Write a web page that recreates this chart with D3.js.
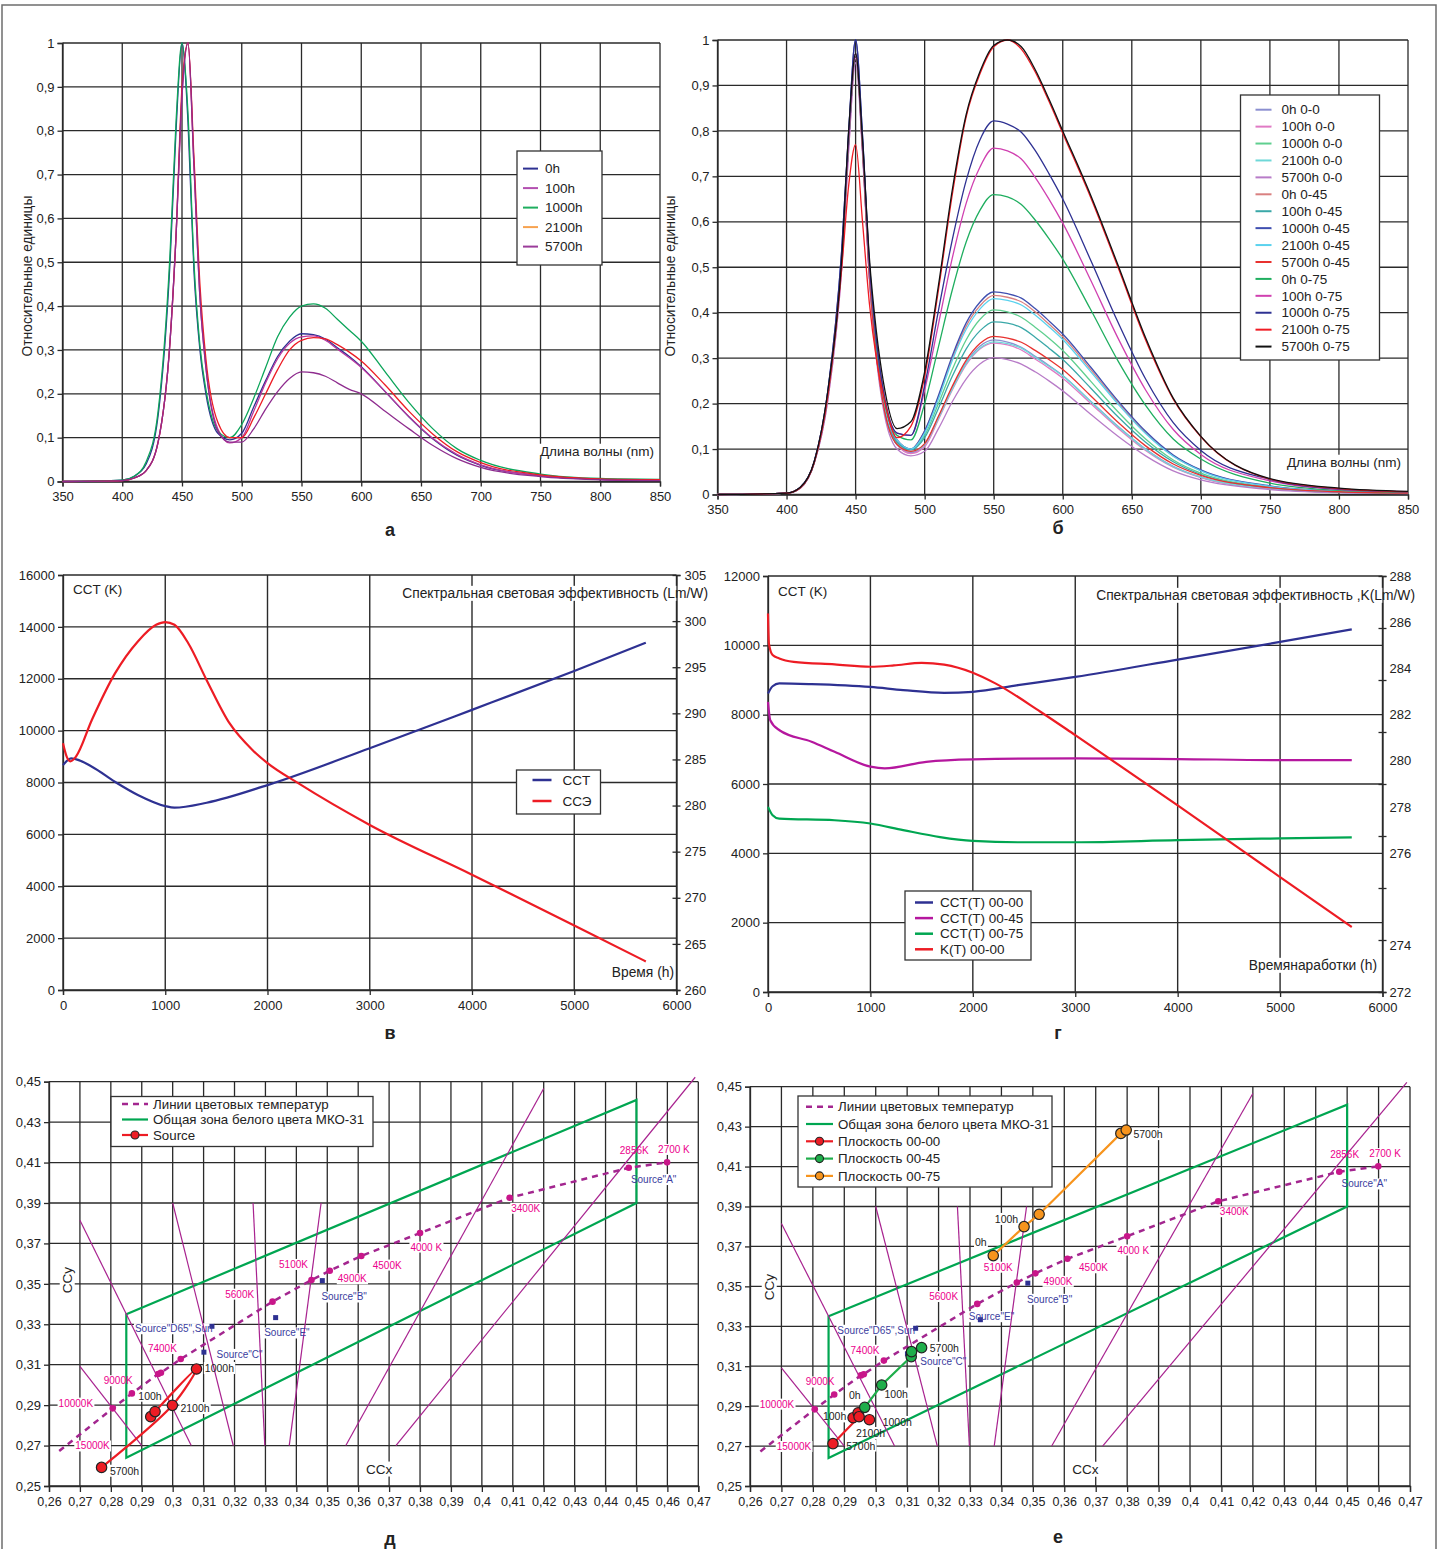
<!DOCTYPE html>
<html>
<head>
<meta charset="utf-8">
<script src="https://cdn.jsdelivr.net/npm/d3@7"></script>
<style>
  body { margin: 0; background: #fff; }
  text { font-family: "Liberation Sans", Arial, sans-serif; }
</style>
</head>
<body>
<svg id="fig" width="1439" height="1549"></svg>
<script>
/* ---------- data: spectra (а, б) ---------- */
const wl = [350, 400, 410, 420, 430, 440, 445, 450, 455, 460, 465, 470, 480, 490, 500, 510, 520, 530, 540, 550, 560, 570, 580, 590, 600, 620, 640, 660, 680, 700, 750, 800, 850];

const specANames = ['0h', '100h', '1000h', '2100h', '5700h'];
const specAColors = ['#2e3192', '#b9369e', '#0ca55a', '#ed1c24', '#8e2c8e'];
const specALegendColors = ['#2e3192', '#b34fb0', '#1fae5f', '#f7a24f', '#9b3c9a'];
const specA_0h = [0, 0.003, 0.012, 0.04, 0.15, 0.5, 0.8, 1.0, 0.82, 0.48, 0.3, 0.2, 0.11, 0.095, 0.11, 0.17, 0.23, 0.285, 0.32, 0.337, 0.335, 0.325, 0.305, 0.285, 0.262, 0.205, 0.147, 0.097, 0.06, 0.037, 0.013, 0.005, 0.003];
const specA_100h = [0, 0.002, 0.008, 0.025, 0.09, 0.32, 0.56, 0.88, 1.0, 0.72, 0.42, 0.26, 0.12, 0.088, 0.1, 0.16, 0.225, 0.28, 0.315, 0.33, 0.332, 0.322, 0.302, 0.282, 0.26, 0.205, 0.148, 0.098, 0.062, 0.038, 0.013, 0.005, 0.003];
const specA_1000h = [0, 0.003, 0.012, 0.045, 0.16, 0.52, 0.82, 1.0, 0.84, 0.5, 0.31, 0.21, 0.115, 0.1, 0.13, 0.19, 0.26, 0.33, 0.375, 0.4, 0.405, 0.395, 0.37, 0.345, 0.32, 0.25, 0.18, 0.12, 0.075, 0.048, 0.017, 0.007, 0.005];
const specA_2100h = [0, 0.002, 0.008, 0.025, 0.09, 0.32, 0.56, 0.9, 1.0, 0.74, 0.45, 0.28, 0.135, 0.1, 0.1, 0.145, 0.2, 0.255, 0.3, 0.322, 0.328, 0.325, 0.312, 0.295, 0.275, 0.22, 0.16, 0.108, 0.068, 0.043, 0.015, 0.006, 0.004];
const specA_5700h = [0, 0.002, 0.008, 0.025, 0.09, 0.32, 0.56, 0.88, 1.0, 0.72, 0.42, 0.26, 0.115, 0.09, 0.09, 0.12, 0.165, 0.205, 0.235, 0.25, 0.248, 0.24, 0.225, 0.21, 0.2, 0.16, 0.12, 0.082, 0.052, 0.032, 0.011, 0.004, 0.002];

const specBNames = ['0h 0-0', '100h 0-0', '1000h 0-0', '2100h 0-0', '5700h 0-0', '0h 0-45', '100h 0-45', '1000h 0-45', '2100h 0-45', '5700h 0-45', '0h 0-75', '100h 0-75', '1000h 0-75', '2100h 0-75', '5700h 0-75'];
const specBColors = ['#8b8fd0', '#e07ac4', '#5fcf8f', '#6fd8d8', '#b87cc8', '#d98080', '#3aa8a8', '#3f4fb0', '#5ad2ee', '#e8312f', '#1fae5f', '#d040b0', '#2e3192', '#f01c24', '#111111'];
const specB_0h_00 = [0, 0.003, 0.015, 0.07, 0.22, 0.52, 0.78, 0.97, 0.76, 0.48, 0.31, 0.2, 0.11, 0.092, 0.11, 0.17, 0.235, 0.29, 0.326, 0.34, 0.335, 0.324, 0.304, 0.284, 0.262, 0.206, 0.15, 0.1, 0.062, 0.038, 0.013, 0.005, 0.003];
const specB_100h_00 = [0, 0.003, 0.014, 0.068, 0.21, 0.5, 0.76, 0.96, 0.76, 0.48, 0.31, 0.2, 0.11, 0.09, 0.105, 0.165, 0.23, 0.285, 0.32, 0.333, 0.329, 0.318, 0.298, 0.278, 0.256, 0.201, 0.146, 0.097, 0.06, 0.037, 0.013, 0.005, 0.003];
const specB_1000h_00 = [0, 0.003, 0.015, 0.07, 0.22, 0.52, 0.78, 0.97, 0.77, 0.49, 0.32, 0.21, 0.115, 0.1, 0.13, 0.2, 0.275, 0.34, 0.385, 0.406, 0.402, 0.39, 0.368, 0.344, 0.317, 0.25, 0.182, 0.122, 0.076, 0.047, 0.016, 0.006, 0.004];
const specB_2100h_00 = [0, 0.003, 0.015, 0.07, 0.22, 0.52, 0.78, 0.97, 0.76, 0.48, 0.31, 0.2, 0.11, 0.095, 0.11, 0.168, 0.232, 0.288, 0.322, 0.336, 0.332, 0.322, 0.302, 0.282, 0.261, 0.205, 0.149, 0.099, 0.061, 0.038, 0.013, 0.005, 0.003];
const specB_5700h_00 = [0, 0.003, 0.014, 0.068, 0.21, 0.5, 0.76, 0.95, 0.75, 0.47, 0.3, 0.19, 0.1, 0.085, 0.095, 0.145, 0.204, 0.254, 0.287, 0.301, 0.297, 0.287, 0.27, 0.25, 0.228, 0.177, 0.128, 0.085, 0.052, 0.032, 0.011, 0.004, 0.002];
const specB_0h_45 = [0, 0.003, 0.015, 0.07, 0.22, 0.52, 0.78, 0.97, 0.77, 0.49, 0.32, 0.21, 0.12, 0.1, 0.14, 0.215, 0.3, 0.37, 0.415, 0.438, 0.434, 0.424, 0.402, 0.375, 0.347, 0.276, 0.202, 0.136, 0.085, 0.053, 0.018, 0.007, 0.004];
const specB_100h_45 = [0, 0.003, 0.015, 0.07, 0.22, 0.52, 0.78, 0.97, 0.77, 0.49, 0.32, 0.21, 0.115, 0.098, 0.125, 0.19, 0.26, 0.32, 0.36, 0.38, 0.377, 0.367, 0.346, 0.322, 0.297, 0.235, 0.171, 0.115, 0.072, 0.044, 0.015, 0.006, 0.003];
const specB_1000h_45 = [0, 0.003, 0.016, 0.072, 0.23, 0.54, 0.8, 1.0, 0.79, 0.5, 0.33, 0.215, 0.12, 0.1, 0.14, 0.218, 0.305, 0.377, 0.423, 0.446, 0.442, 0.432, 0.409, 0.382, 0.353, 0.281, 0.206, 0.139, 0.087, 0.054, 0.019, 0.007, 0.004];
const specB_2100h_45 = [0, 0.003, 0.015, 0.07, 0.22, 0.52, 0.78, 0.97, 0.77, 0.49, 0.32, 0.21, 0.12, 0.1, 0.135, 0.21, 0.295, 0.363, 0.408, 0.431, 0.427, 0.417, 0.395, 0.369, 0.341, 0.271, 0.199, 0.134, 0.084, 0.052, 0.018, 0.007, 0.004];
const specB_5700h_45 = [0, 0.003, 0.015, 0.07, 0.22, 0.52, 0.78, 0.97, 0.76, 0.48, 0.31, 0.2, 0.11, 0.095, 0.112, 0.172, 0.238, 0.295, 0.332, 0.348, 0.344, 0.335, 0.317, 0.297, 0.275, 0.218, 0.159, 0.107, 0.067, 0.042, 0.015, 0.006, 0.003];
const specB_0h_75 = [0, 0.003, 0.015, 0.07, 0.22, 0.52, 0.78, 0.97, 0.77, 0.5, 0.33, 0.22, 0.13, 0.12, 0.2, 0.325, 0.45, 0.555, 0.625, 0.66, 0.655, 0.638, 0.604, 0.563, 0.518, 0.408, 0.294, 0.196, 0.122, 0.078, 0.025, 0.009, 0.005];
const specB_100h_75 = [0, 0.003, 0.015, 0.07, 0.22, 0.52, 0.78, 0.97, 0.77, 0.5, 0.34, 0.23, 0.135, 0.13, 0.23, 0.375, 0.52, 0.64, 0.72, 0.762, 0.756, 0.738, 0.698, 0.65, 0.597, 0.473, 0.344, 0.23, 0.143, 0.088, 0.03, 0.011, 0.006];
const specB_1000h_75 = [0, 0.003, 0.016, 0.072, 0.23, 0.54, 0.8, 1.0, 0.79, 0.51, 0.34, 0.23, 0.135, 0.13, 0.24, 0.405, 0.56, 0.69, 0.78, 0.822, 0.815, 0.797, 0.757, 0.706, 0.65, 0.517, 0.379, 0.254, 0.158, 0.097, 0.033, 0.012, 0.006];
const specB_2100h_75 = [0, 0.003, 0.015, 0.07, 0.22, 0.5, 0.68, 0.77, 0.6, 0.42, 0.3, 0.22, 0.125, 0.15, 0.26, 0.45, 0.66, 0.83, 0.925, 0.985, 1.0, 0.98, 0.93, 0.865, 0.795, 0.655, 0.5, 0.34, 0.21, 0.127, 0.034, 0.013, 0.006];
const specB_5700h_75 = [0, 0.003, 0.016, 0.072, 0.23, 0.52, 0.8, 0.97, 0.78, 0.52, 0.36, 0.25, 0.145, 0.16, 0.27, 0.46, 0.67, 0.835, 0.93, 0.988, 1.0, 0.985, 0.935, 0.87, 0.8, 0.66, 0.505, 0.345, 0.212, 0.128, 0.035, 0.014, 0.007];

/* ---------- data: CCT and efficacy vs. time (в, г) ---------- */
const cctTimeV = [0, 80, 283, 507, 732, 1000, 1090, 1405, 2000, 3000, 4000, 5000, 5700];
const cctV = [8670, 8930, 8610, 8030, 7520, 7090, 7030, 7220, 7900, 9320, 10800, 12300, 13390];
const effTimeV = [0, 36, 72, 126, 283, 507, 732, 911, 1000, 1090, 1225, 1405, 1630, 1855, 2000, 2304, 3000, 4000, 5000, 5700];
const effV = [286.75, 285.3, 284.8, 285.3, 289.3, 294.3, 297.8, 299.6, 299.9, 299.6, 297.6, 293.6, 288.9, 286.0, 284.6, 282.4, 277.9, 272.5, 267.0, 263.1];

const cct00Time = [0, 45, 110, 425, 1000, 1320, 1720, 2000, 2440, 3000, 4000, 5000, 5700];
const cct00 = [8610, 8820, 8900, 8880, 8800, 8710, 8630, 8660, 8850, 9090, 9590, 10100, 10460];
const cct45Time = [0, 22, 112, 425, 650, 1000, 1140, 1545, 2000, 3000, 4000, 5000, 5700];
const cct45 = [8370, 7840, 7550, 7220, 6930, 6500, 6450, 6640, 6710, 6740, 6720, 6690, 6690];
const cct75Time = [0, 45, 110, 650, 1000, 1320, 1680, 2000, 2440, 3000, 4000, 5000, 5700];
const cct75 = [5340, 5100, 5000, 4955, 4860, 4670, 4470, 4360, 4320, 4320, 4380, 4430, 4460];
const kTime = [0, 9, 45, 110, 250, 650, 1000, 1230, 1500, 1720, 2000, 2220, 2660, 3000, 4000, 5000, 5700];
const kVal = [286.56, 285.4, 284.96, 284.83, 284.7, 284.6, 284.51, 284.56, 284.66, 284.59, 284.28, 283.87, 282.78, 281.88, 279.18, 276.42, 274.5];
// right-axis labels of panel г as printed (bottom to top, one slot left empty)
const kAxisLabels = ['272', '274', '', '276', '278', '280', '282', '284', '286', '288'];

/* ---------- data: chromaticity diagrams (д, е) ---------- */
const ctX = [0.2633, 0.2806, 0.2868, 0.2953, 0.2962, 0.3026, 0.3323, 0.3449, 0.3508, 0.361, 0.38, 0.409, 0.4475, 0.4599];
const ctY = [0.2673, 0.2884, 0.2958, 0.3054, 0.306, 0.3128, 0.3412, 0.3519, 0.3565, 0.3638, 0.3751, 0.3926, 0.4074, 0.4101];
const ctLabels = ['15000K', '10000K', '9000K', '7400K', '5600K', '5100K', '4900K', '4500K', '4000 K', '3400K', '2856K', '2700 K'];
const ctLabelX = [0.2685, 0.2631, 0.2777, 0.292, 0.317, 0.3344, 0.3534, 0.3647, 0.3769, 0.4095, 0.4446, 0.457];
const ctLabelY = [0.2698, 0.291, 0.3021, 0.318, 0.3449, 0.3596, 0.3525, 0.3593, 0.3682, 0.3874, 0.4162, 0.4165];

const zoneX = [0.285, 0.45, 0.45, 0.285];
const zoneY = [0.335, 0.441, 0.39, 0.264];

const isoX1 = [0.27, 0.27, 0.30, 0.326, 0.348, 0.356, 0.3722];
const isoY1 = [0.3815, 0.3092, 0.39, 0.39, 0.39, 0.27, 0.27];
const isoX2 = [0.306, 0.29, 0.3196, 0.3298, 0.3377, 0.42, 0.469];
const isoY2 = [0.27, 0.27, 0.27, 0.27, 0.27, 0.4466, 0.4522];

const srcPtX = [0.3127, 0.3101, 0.3333, 0.3484];
const srcPtY = [0.329, 0.3162, 0.3333, 0.3516];
const srcLabels = ['Source"D65",Sun', 'Source"C"', 'Source"E"', 'Source"B"', 'Source"A"'];
const srcLabelX = [0.2878, 0.3142, 0.3296, 0.3481, 0.4482];
const srcLabelYD = [0.3278, 0.3151, 0.3257, 0.3435, 0.4016];
const srcLabelYE = [0.328, 0.3123, 0.3348, 0.3435, 0.4013];

const srcDX = [0.2929, 0.2943, 0.3077, 0.2999, 0.277];
const srcDY = [0.2843, 0.2868, 0.3079, 0.2899, 0.2592];
const srcDLab = ['', '100h', '1000h', '2100h', '5700h'];
const srcDLabX = [0, 0.2889, 0.3104, 0.3025, 0.2797];
const srcDLabY = [0, 0.2945, 0.3082, 0.2884, 0.2574];

const p00X = [0.2928, 0.2944, 0.298, 0.2947, 0.2864];
const p00Y = [0.2842, 0.2867, 0.2832, 0.2847, 0.2712];
const p00Lab = ['', '100h', '1000h', '2100h', '5700h'];
const p00LabX = [0, 0.2832, 0.3022, 0.2937, 0.2906];
const p00LabY = [0, 0.2847, 0.2819, 0.2764, 0.2701];
const p45X = [0.2965, 0.3019, 0.3113, 0.3114, 0.3146];
const p45Y = [0.2894, 0.3006, 0.3148, 0.3173, 0.3193];
const p45Lab = ['0h', '100h', '', '', '5700h'];
const p45LabX = [0.2915, 0.3028, 0, 0, 0.3172];
const p45LabY = [0.2954, 0.2961, 0, 0, 0.3191];
const p75X = [0.3374, 0.3472, 0.352, 0.378, 0.3797];
const p75Y = [0.3654, 0.3799, 0.3861, 0.4266, 0.4283];
const p75Lab = ['0h', '100h', '', '', '5700h'];
const p75LabX = [0.3316, 0.3379, 0, 0, 0.382];
const p75LabY = [0.3719, 0.3836, 0, 0, 0.4261];

/* ---------- helpers ---------- */
const svg = d3.select('#fig');
const ruLocale = d3.formatLocale({ decimal: ',', thousands: '', grouping: [3], currency: ['', ''] });
const fmtDec = ruLocale.format('.2~f');
const gridColor = '#2a2a2a';

svg.append('rect')
    .attr('x', 2).attr('y', 5).attr('width', 1434).attr('height', 1560)
    .attr('fill', 'none').attr('stroke', '#6d6d6d').attr('stroke-width', 1.5);

function styleAxis(sel, size) {
    sel.select('.domain').attr('stroke', gridColor).attr('stroke-width', 1.3);
    sel.selectAll('.tick line').attr('stroke', gridColor).attr('stroke-width', 1.3);
    sel.selectAll('.tick text')
        .attr('fill', '#222')
        .style('font-family', '"Liberation Sans", Arial, sans-serif')
        .style('font-size', size + 'px');
}

// text with a white box behind it; the box goes into bgLayer so it only hides the grid
function boxedText(textLayer, bgLayer, x, y, str, o = {}) {
    const t = textLayer.append('text')
        .attr('x', x).attr('y', y).attr('dy', '0.35em')
        .attr('text-anchor', o.anchor || 'start')
        .attr('fill', o.color || '#222')
        .style('font-size', (o.size || 13) + 'px')
        .text(str);
    if (o.rotate) t.attr('transform', `rotate(-90,${x},${y})`);
    const b = t.node().getBBox();
    const r = bgLayer.append('rect')
        .attr('x', b.x - 1).attr('y', b.y).attr('width', b.width + 2).attr('height', b.height)
        .attr('fill', '#fff');
    if (o.rotate) r.attr('transform', `rotate(-90,${x},${y})`);
    return t;
}

function panelLetter(x, y, str) {
    svg.append('text').attr('x', x).attr('y', y).attr('dy', '0.35em')
        .attr('text-anchor', 'middle')
        .style('font-size', '18px').style('font-weight', 'bold')
        .attr('fill', '#222').text(str);
}

/* ---------- spectra panels ---------- */
function drawSpectra(p) {
    const g = svg.append('g');
    const x = d3.scaleLinear().domain([350, 850]).range([p.left, p.right]);
    const y = d3.scaleLinear().domain([0, 1]).range([p.bottom, p.top]);

    const grid = g.append('g').attr('stroke', gridColor).attr('stroke-width', 1.3);
    grid.selectAll('.v').data(x.ticks(10)).join('line')
        .attr('x1', d => x(d)).attr('x2', d => x(d)).attr('y1', p.top).attr('y2', p.bottom);
    grid.selectAll('.h').data(y.ticks(10)).join('line')
        .attr('y1', d => y(d)).attr('y2', d => y(d)).attr('x1', p.left).attr('x2', p.right);

    const bg = g.append('g');

    g.append('g').attr('transform', `translate(0,${p.bottom})`)
        .call(d3.axisBottom(x).ticks(10).tickSize(5).tickPadding(5).tickFormat(d3.format('d')))
        .call(s => styleAxis(s, 13));
    g.append('g').attr('transform', `translate(${p.left},0)`)
        .call(d3.axisLeft(y).ticks(10).tickSize(5).tickPadding(3).tickFormat(fmtDec))
        .call(s => styleAxis(s, 13));

    const line = d3.line().x((d, i) => x(wl[i])).y(d => y(d)).curve(d3.curveMonotoneX);
    g.append('g').selectAll('path').data(p.series).join('path')
        .attr('d', d => line(d.values))
        .attr('fill', 'none').attr('stroke', d => d.color).attr('stroke-width', 1.3);

    const tl = g.append('g');
    boxedText(tl, bg, p.xLabelX, p.xLabelY, 'Длина волны (nm)', { anchor: 'end', size: 13.5 });
    tl.append('text')
        .attr('transform', `translate(${p.yLabelX},${p.yLabelY}) rotate(-90)`)
        .attr('text-anchor', 'middle').attr('dy', '0.35em')
        .style('font-size', '13.8px').attr('fill', '#222')
        .text('Относительные единицы');

    const lg = g.append('g').attr('transform', `translate(${p.legend.x},${p.legend.y})`);
    lg.append('rect').attr('width', p.legend.w).attr('height', p.legend.h)
        .attr('fill', '#fff').attr('stroke', '#333').attr('stroke-width', 1.3);
    const items = lg.selectAll('g').data(p.series).join('g')
        .attr('transform', (d, i) => `translate(0,${p.legend.first + i * p.legend.step})`);
    items.append('line').attr('x1', p.legend.lx1).attr('x2', p.legend.lx2)
        .attr('stroke', d => d.legendColor || d.color).attr('stroke-width', 2);
    items.append('text').attr('x', p.legend.tx).attr('dy', '0.35em')
        .style('font-size', p.legend.size + 'px').attr('fill', '#222')
        .text(d => d.name);
}

const specAValues = [specA_0h, specA_100h, specA_1000h, specA_2100h, specA_5700h];
drawSpectra({
    left: 62.5, right: 660, top: 43, bottom: 481.5,
    series: specANames.map((n, i) => ({ name: n, color: specAColors[i], legendColor: specALegendColors[i], values: specAValues[i] })),
    xLabelX: 654, xLabelY: 451, yLabelX: 27, yLabelY: 276,
    legend: { x: 517, y: 151, w: 85, h: 114, first: 17.6, step: 19.5, lx1: 6, lx2: 21, tx: 28, size: 13.5 }
});

const specBValues = [specB_0h_00, specB_100h_00, specB_1000h_00, specB_2100h_00, specB_5700h_00,
    specB_0h_45, specB_100h_45, specB_1000h_45, specB_2100h_45, specB_5700h_45,
    specB_0h_75, specB_100h_75, specB_1000h_75, specB_2100h_75, specB_5700h_75];
drawSpectra({
    left: 717.5, right: 1408, top: 40, bottom: 494.5,
    series: specBNames.map((n, i) => ({ name: n, color: specBColors[i], values: specBValues[i] })),
    xLabelX: 1401, xLabelY: 462, yLabelX: 670, yLabelY: 276,
    legend: { x: 1240.5, y: 95, w: 139, h: 265, first: 14.7, step: 16.92, lx1: 15, lx2: 31, tx: 41, size: 13.5 }
});

/* ---------- time panels ---------- */
function drawTime(p) {
    const g = svg.append('g');
    const x = d3.scaleLinear().domain([0, 6000]).range([p.left, p.right]);
    const yL = d3.scaleLinear().domain([0, p.leftMax]).range([p.bottom, p.top]);
    const yR = d3.scaleLinear().domain(p.rightDomain).range([p.bottom, p.top]);
    const xt = d3.range(0, 6001, 1000);
    const yt = d3.range(0, p.leftMax + 1, 2000);

    const grid = g.append('g').attr('stroke', gridColor).attr('stroke-width', 1.4);
    grid.selectAll('.v').data(xt).join('line')
        .attr('x1', d => x(d)).attr('x2', d => x(d)).attr('y1', p.top).attr('y2', p.bottom);
    grid.selectAll('.h').data(yt).join('line')
        .attr('y1', d => yL(d)).attr('y2', d => yL(d)).attr('x1', p.left).attr('x2', p.right);

    const bg = g.append('g');

    g.append('g').attr('transform', `translate(0,${p.bottom})`)
        .call(d3.axisBottom(x).tickValues(xt).tickSize(5).tickPadding(6).tickFormat(d3.format('d')))
        .call(s => styleAxis(s, 13));
    g.append('g').attr('transform', `translate(${p.left},0)`)
        .call(d3.axisLeft(yL).tickValues(yt).tickSize(5).tickPadding(3).tickFormat(d3.format('d')))
        .call(s => styleAxis(s, 13));
    const ra = g.append('g').attr('transform', `translate(${p.right},0)`)
        .call(d3.axisRight(yR).tickValues(p.rightTicks).tickSize(4).tickPadding(4).tickFormat(d3.format('d')))
        .call(s => styleAxis(s, 13));
    ra.selectAll('.tick').append('line').attr('x2', -4).attr('stroke', gridColor).attr('stroke-width', 1.3);
    if (p.rightLabels) {
        // labels printed on their own evenly spaced slots, as in the original figure
        ra.selectAll('.tick text').remove();
        const slot = d3.scalePoint().domain(d3.range(p.rightLabels.length)).range([p.bottom, p.top]);
        ra.append('g').selectAll('text').data(p.rightLabels).join('text')
            .attr('x', 7).attr('y', (d, i) => slot(i)).attr('dy', '0.35em')
            .attr('fill', '#222').style('font-size', '13px').text(d => d);
    }

    const line = d3.line().curve(d3.curveMonotoneX);
    g.append('g').selectAll('path').data(p.series).join('path')
        .attr('d', d => line(d.t.map((t, i) => [x(t), (d.right ? yR : yL)(d.v[i])])))
        .attr('fill', 'none').attr('stroke', d => d.color).attr('stroke-width', 2.2);

    const tl = g.append('g');
    boxedText(tl, bg, p.cctX, p.cctY, 'CCT (K)', { size: 13.5 });
    boxedText(tl, bg, p.effX, p.effY, p.effText, { anchor: 'end', size: 13.8 });
    boxedText(tl, bg, p.timeX, p.timeY, p.timeText, { anchor: 'end', size: 13.8 });

    const L = p.legend;
    const lg = g.append('g').attr('transform', `translate(${L.x},${L.y})`);
    lg.append('rect').attr('width', L.w).attr('height', L.h)
        .attr('fill', '#fff').attr('stroke', '#333').attr('stroke-width', 1.3);
    const items = lg.selectAll('g').data(p.series).join('g')
        .attr('transform', (d, i) => `translate(0,${L.first + i * L.step})`);
    items.append('line').attr('x1', L.lx1).attr('x2', L.lx2)
        .attr('stroke', d => d.color).attr('stroke-width', 2.5);
    items.append('text').attr('x', L.tx).attr('dy', '0.35em')
        .style('font-size', '13.5px').attr('fill', '#222').text(d => d.name);
}

drawTime({
    left: 63, right: 676.5, top: 575, bottom: 990,
    leftMax: 16000, rightDomain: [260, 305], rightTicks: d3.range(260, 306, 5),
    series: [
        { name: 'CCT', color: '#2e3192', t: cctTimeV, v: cctV },
        { name: 'ССЭ', color: '#ed1c24', t: effTimeV, v: effV, right: true }
    ],
    cctX: 73, cctY: 589,
    effX: 708, effY: 593, effText: 'Спектральная световая эффективность (Lm/W)',
    timeX: 674, timeY: 972, timeText: 'Время (h)',
    legend: { x: 516.5, y: 770, w: 84, h: 44, first: 10, step: 21, lx1: 16, lx2: 35, tx: 46 }
});

drawTime({
    left: 768, right: 1382.5, top: 576, bottom: 992,
    leftMax: 12000, rightDomain: [272, 288], rightTicks: d3.range(272, 289, 2),
    rightLabels: kAxisLabels,
    series: [
        { name: 'CCT(T) 00-00', color: '#2e3192', t: cct00Time, v: cct00 },
        { name: 'CCT(T) 00-45', color: '#b5179e', t: cct45Time, v: cct45 },
        { name: 'CCT(T) 00-75', color: '#00a651', t: cct75Time, v: cct75 },
        { name: 'K(T) 00-00', color: '#ed1c24', t: kTime, v: kVal, right: true }
    ],
    cctX: 778, cctY: 591,
    effX: 1415, effY: 595, effText: 'Спектральная световая эффективность ,K(Lm/W)',
    timeX: 1377, timeY: 965, timeText: 'Времянаработки (h)',
    legend: { x: 905, y: 891, w: 126, h: 69, first: 11.5, step: 15.6, lx1: 10, lx2: 28, tx: 35 }
});

/* ---------- chromaticity panels ---------- */
function drawCie(p) {
    const g = svg.append('g');
    const x = d3.scaleLinear().domain([0.26, 0.47]).range([p.left, p.right]);
    const y = d3.scaleLinear().domain([0.25, 0.45]).range([p.bottom, p.top]);
    const xt = d3.range(26, 48).map(d => d / 100);
    const yt = d3.range(25, 46, 2).map(d => d / 100);

    const grid = g.append('g').attr('stroke', gridColor).attr('stroke-width', 1.3);
    grid.selectAll('.v').data(xt).join('line')
        .attr('x1', d => x(d)).attr('x2', d => x(d)).attr('y1', p.top).attr('y2', p.bottom);
    grid.selectAll('.h').data(yt).join('line')
        .attr('y1', d => y(d)).attr('y2', d => y(d)).attr('x1', p.left).attr('x2', p.right);

    const bg = g.append('g');
    const marks = g.append('g');
    const tl = g.append('g');

    g.append('g').attr('transform', `translate(0,${p.bottom})`)
        .call(d3.axisBottom(x).tickValues(xt).tickSize(6).tickPadding(5).tickFormat(fmtDec))
        .call(s => styleAxis(s, 12.5));
    g.append('g').attr('transform', `translate(${p.left},0)`)
        .call(d3.axisLeft(y).tickValues(yt).tickSize(5).tickPadding(3).tickFormat(fmtDec))
        .call(s => styleAxis(s, 13));

    // white zone МКО-31
    marks.append('path')
        .attr('d', d3.line().curve(d3.curveLinearClosed)(zoneX.map((v, i) => [x(v), y(zoneY[i])])))
        .attr('fill', 'none').attr('stroke', '#00a651').attr('stroke-width', 2.2);

    // isotemperature lines
    marks.append('g').selectAll('line').data(isoX1).join('line')
        .attr('x1', d => x(d)).attr('y1', (d, i) => y(isoY1[i]))
        .attr('x2', (d, i) => x(isoX2[i])).attr('y2', (d, i) => y(isoY2[i]))
        .attr('stroke', '#a8228f').attr('stroke-width', 1.2);

    // Planckian locus (dashed) with temperature dots
    marks.append('path')
        .attr('d', d3.line()(ctX.map((v, i) => [x(v), y(ctY[i])])))
        .attr('fill', 'none').attr('stroke', '#a3268f').attr('stroke-width', 2.5)
        .attr('stroke-dasharray', '6,5');
    marks.append('g').selectAll('circle').data(ctX.slice(1)).join('circle')
        .attr('cx', d => x(d)).attr('cy', (d, i) => y(ctY[i + 1])).attr('r', 3.3)
        .attr('fill', '#c8168a');

    ctLabels.forEach((s, i) => boxedText(tl, bg, x(ctLabelX[i]), y(ctLabelY[i]), s, { color: '#ec008c', size: 10 }));

    // reference sources
    marks.append('g').selectAll('rect').data(srcPtX).join('rect')
        .attr('x', d => x(d) - 2.5).attr('y', (d, i) => y(srcPtY[i]) - 2.5)
        .attr('width', 5).attr('height', 5).attr('fill', '#2e3192');
    srcLabels.forEach((s, i) => boxedText(tl, bg, x(srcLabelX[i]), y(p.srcLabelY[i]), s, { color: '#3a3d9e', size: 10 }));

    // measured series
    p.series.forEach(s => {
        marks.append('path')
            .attr('d', d3.line().curve(p.curve)(s.xs.map((v, i) => [x(v), y(s.ys[i])])))
            .attr('fill', 'none').attr('stroke', s.color).attr('stroke-width', 2.2);
    });
    p.series.forEach(s => {
        marks.append('g').selectAll('circle').data(s.xs).join('circle')
            .attr('cx', d => x(d)).attr('cy', (d, i) => y(s.ys[i])).attr('r', 5.2)
            .attr('fill', s.color).attr('stroke', '#222').attr('stroke-width', 1.2);
        s.labels.forEach((l, i) => {
            if (l) boxedText(tl, bg, x(s.lx[i]), y(s.ly[i]), l, { size: 10.5 });
        });
    });

    boxedText(tl, bg, x(0.3625), y(0.2585), 'CCx', { size: 13.5 });
    boxedText(tl, bg, p.ccyX, p.ccyY, 'CCy', { rotate: true, anchor: 'middle', size: 13.5 });

    // legend
    const L = p.legend;
    const lg = g.append('g').attr('transform', `translate(${L.x},${L.y})`);
    lg.append('rect').attr('width', L.w).attr('height', L.h)
        .attr('fill', '#fff').attr('stroke', '#333').attr('stroke-width', 1.3);
    const items = [
        { name: 'Линии цветовых температур', color: '#a3268f', dash: true },
        { name: 'Общая зона белого цвета МКО-31', color: '#00a651' }
    ].concat(p.series.map(s => ({ name: s.name, color: s.color, dot: true })));
    const it = lg.selectAll('g').data(items).join('g')
        .attr('transform', (d, i) => `translate(0,${L.first + i * L.step})`);
    it.append('line').attr('x1', L.lx1).attr('x2', L.lx2)
        .attr('stroke', d => d.color).attr('stroke-width', d => d.dash ? 2.5 : 2.2)
        .attr('stroke-dasharray', d => d.dash ? '6,5' : null);
    it.filter(d => d.dot).append('circle')
        .attr('cx', (L.lx1 + L.lx2) / 2).attr('r', 4)
        .attr('fill', d => d.color).attr('stroke', '#222').attr('stroke-width', 1.1);
    it.append('text').attr('x', L.tx).attr('dy', '0.35em')
        .style('font-size', '13.3px').attr('fill', '#222').text(d => d.name);
}

drawCie({
    left: 49, right: 698.3, top: 1081.7, bottom: 1486,
    srcLabelY: srcLabelYD,
    curve: d3.curveCatmullRom,
    series: [
        { name: 'Source', color: '#ed1c24', xs: srcDX, ys: srcDY, labels: srcDLab, lx: srcDLabX, ly: srcDLabY }
    ],
    ccyX: 67, ccyY: 1280,
    legend: { x: 111, y: 1096.5, w: 262, h: 50, first: 7.5, step: 15.5, lx1: 11, lx2: 37, tx: 42 }
});

drawCie({
    left: 750, right: 1410, top: 1086.7, bottom: 1486,
    srcLabelY: srcLabelYE,
    curve: d3.curveLinear,
    series: [
        { name: 'Плоскость 00-00', color: '#ed1c24', xs: p00X, ys: p00Y, labels: p00Lab, lx: p00LabX, ly: p00LabY },
        { name: 'Плоскость 00-45', color: '#1fae4b', xs: p45X, ys: p45Y, labels: p45Lab, lx: p45LabX, ly: p45LabY },
        { name: 'Плоскость 00-75', color: '#f7941d', xs: p75X, ys: p75Y, labels: p75Lab, lx: p75LabX, ly: p75LabY }
    ],
    ccyX: 769, ccyY: 1287,
    legend: { x: 798, y: 1096, w: 254, h: 91, first: 10.7, step: 17.3, lx1: 8, lx2: 35, tx: 40 }
});

panelLetter(390, 530, 'а');
panelLetter(1058, 528, 'б');
panelLetter(390, 1033, 'в');
panelLetter(1058, 1033, 'г');
panelLetter(390, 1539, 'д');
panelLetter(1058, 1537, 'е');
</script>
</body>
</html>
